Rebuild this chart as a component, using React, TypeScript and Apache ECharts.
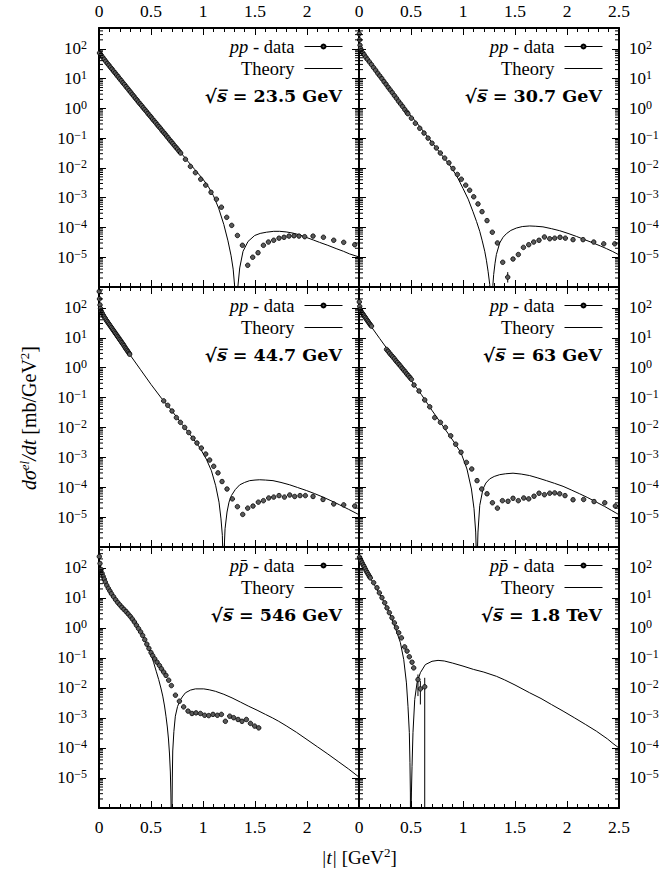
import React, { useEffect, useRef } from 'react';
import * as echarts from 'echarts';

// Panel labels
const panelEnergies = ['23.5 GeV', '30.7 GeV', '44.7 GeV', '63 GeV', '546 GeV', '1.8 TeV'];
const dataNames = ['pp - data', 'pp - data', 'pp - data', 'pp - data', 'pp\u0304 - data', 'pp\u0304 - data'];
const theoryName = 'Theory';
const yTickExponents = [-5, -4, -3, -2, -1, 0, 1, 2];
const minorMantissas = [2, 3, 4, 5, 6, 7, 8, 9];
const minorDecades = [-6, -5, -4, -3, -2, -1, 0, 1, 2];

// Data: [|t| (GeV^2), log10(dσ/dt in mb/GeV^2)]
const data235: number[][] = [
  [0.005, 1.86], [0.02, 1.79], [0.035, 1.72], [0.05, 1.65], [0.065, 1.58], [0.08, 1.51], [0.095, 1.45], [0.11, 1.38],
  [0.125, 1.32], [0.14, 1.25], [0.155, 1.19], [0.17, 1.12], [0.185, 1.06], [0.2, 0.99], [0.215, 0.93], [0.23, 0.86],
  [0.245, 0.8], [0.26, 0.73], [0.275, 0.67], [0.29, 0.6], [0.305, 0.54], [0.32, 0.47], [0.335, 0.41], [0.35, 0.34],
  [0.365, 0.28], [0.38, 0.21], [0.395, 0.15], [0.41, 0.09], [0.425, 0.02], [0.44, -0.04], [0.455, -0.1], [0.47, -0.17],
  [0.485, -0.23], [0.5, -0.29], [0.515, -0.36], [0.53, -0.42], [0.545, -0.48], [0.56, -0.55], [0.575, -0.61], [0.59, -0.67],
  [0.605, -0.74], [0.62, -0.8], [0.635, -0.86], [0.65, -0.93], [0.665, -0.99], [0.68, -1.06], [0.695, -1.12], [0.71, -1.18],
  [0.725, -1.25], [0.74, -1.31], [0.755, -1.37], [0.77, -1.44], [0.785, -1.5],
  [0.831, -1.71], [0.879, -1.95], [0.927, -2.16], [0.978, -2.38], [1.026, -2.58], [1.077, -2.82], [1.129, -3.05],
  [1.177, -3.32], [1.228, -3.66], [1.276, -3.93], [1.331, -4.27], [1.379, -4.6], [1.43, -5.27], [1.478, -5.0],
  [1.529, -4.85], [1.581, -4.6], [1.629, -4.49], [1.68, -4.43], [1.731, -4.36], [1.779, -4.33], [1.827, -4.29],
  [1.875, -4.28], [1.923, -4.29], [1.978, -4.31], [2.058, -4.29], [2.158, -4.33], [2.257, -4.43], [2.353, -4.5], [2.459, -4.58],
];
const theory235: number[][] = [
  [0, 1.88], [0.1, 1.43], [0.2, 0.99], [0.3, 0.56], [0.4, 0.13], [0.5, -0.29], [0.6, -0.72], [0.68, -1.05], [0.76, -1.37],
  [0.84, -1.72], [0.92, -2.05], [1.0, -2.38], [1.05, -2.62], [1.1, -2.93], [1.15, -3.35], [1.2, -3.9], [1.24, -4.45],
  [1.27, -4.95], [1.29, -5.4], [1.305, -6.0], [1.315, -6.8], [1.32, -8], [1.325, -6.8], [1.335, -6.0], [1.353, -5.36],
  [1.385, -4.8], [1.433, -4.47], [1.497, -4.27], [1.55, -4.2], [1.61, -4.16], [1.68, -4.13], [1.737, -4.13], [1.8, -4.15],
  [1.865, -4.19], [1.93, -4.25], [1.99, -4.33], [2.06, -4.42], [2.12, -4.5], [2.2, -4.6], [2.28, -4.71], [2.35, -4.8],
  [2.41, -4.89], [2.5, -4.99],
];

const data307: number[][] = [
  [0.003, 2.5], [0.006, 2.3], [0.01, 2.12], [0.015, 2.01], [0.02, 1.94], [0.035, 1.87], [0.05, 1.8], [0.065, 1.72],
  [0.08, 1.65], [0.1, 1.56], [0.12, 1.47], [0.14, 1.37], [0.16, 1.28], [0.18, 1.18], [0.2, 1.09], [0.22, 1.0],
  [0.24, 0.9], [0.26, 0.81], [0.28, 0.71], [0.3, 0.62], [0.32, 0.53], [0.34, 0.43], [0.36, 0.34], [0.38, 0.24],
  [0.4, 0.15], [0.42, 0.06], [0.44, -0.04], [0.46, -0.13], [0.47, -0.18],
  [0.504, -0.33], [0.542, -0.5], [0.584, -0.67], [0.625, -0.83], [0.664, -1.0], [0.702, -1.17], [0.744, -1.33],
  [0.782, -1.5], [0.824, -1.67], [0.865, -1.83], [0.904, -2.02], [0.946, -2.22], [0.984, -2.38], [1.026, -2.58],
  [1.064, -2.75], [1.103, -2.97], [1.144, -3.21], [1.183, -3.47], [1.231, -3.77], [1.282, -4.16], [1.331, -4.52],
  [1.382, -5.17], [1.43, -5.67], [1.481, -5.06], [1.532, -4.91], [1.581, -4.67], [1.632, -4.58], [1.68, -4.49],
  [1.731, -4.43], [1.783, -4.32], [1.834, -4.38], [1.882, -4.36], [1.933, -4.33], [1.984, -4.36], [2.058, -4.41],
  [2.154, -4.41], [2.257, -4.49], [2.353, -4.55], [2.459, -4.55],
];
const theory307: number[][] = [
  [0, 2.03], [0.1, 1.56], [0.2, 1.09], [0.3, 0.63], [0.391, 0.2], [0.47, -0.13], [0.552, -0.47], [0.63, -0.82],
  [0.712, -1.19], [0.79, -1.54], [0.872, -1.91], [0.94, -2.27], [1.0, -2.69], [1.05, -3.05], [1.096, -3.47], [1.13, -3.8],
  [1.161, -4.13], [1.185, -4.45], [1.209, -4.8], [1.225, -5.1], [1.241, -5.47], [1.257, -5.91], [1.265, -6.5], [1.272, -8],
  [1.279, -6.5], [1.287, -5.95], [1.295, -5.58], [1.308, -5.2], [1.321, -4.91], [1.353, -4.52], [1.385, -4.33],
  [1.417, -4.21], [1.46, -4.1], [1.513, -4.02], [1.57, -3.97], [1.641, -3.95], [1.7, -3.96], [1.769, -3.98], [1.85, -4.04],
  [1.93, -4.11], [2.01, -4.2], [2.09, -4.3], [2.17, -4.41], [2.25, -4.52], [2.32, -4.62], [2.379, -4.71], [2.44, -4.81],
  [2.5, -4.92],
];

const data447: number[][] = [
  [0.002, 2.55], [0.005, 2.3], [0.01, 2.1], [0.015, 1.98], [0.02, 1.9], [0.03, 1.83], [0.04, 1.76], [0.05, 1.7],
  [0.06, 1.65], [0.07, 1.59], [0.08, 1.54], [0.09, 1.49], [0.1, 1.44], [0.11, 1.39], [0.12, 1.34], [0.13, 1.29],
  [0.14, 1.24], [0.15, 1.19], [0.16, 1.14], [0.17, 1.09], [0.18, 1.04], [0.19, 0.99], [0.2, 0.94], [0.21, 0.89],
  [0.22, 0.84], [0.23, 0.79], [0.24, 0.74], [0.25, 0.68], [0.26, 0.63], [0.27, 0.58], [0.28, 0.53], [0.29, 0.48], [0.295, 0.45],
  [0.622, -1.11], [0.661, -1.26], [0.702, -1.45], [0.744, -1.67], [0.783, -1.83], [0.824, -2.0], [0.863, -2.17],
  [0.904, -2.36], [0.942, -2.52], [0.984, -2.69], [1.026, -2.89], [1.064, -3.09], [1.103, -3.3], [1.144, -3.52],
  [1.183, -3.81], [1.231, -4.06], [1.282, -4.39], [1.331, -4.65], [1.382, -4.91], [1.43, -4.7], [1.481, -4.63],
  [1.532, -4.5], [1.581, -4.45], [1.632, -4.36], [1.68, -4.33], [1.731, -4.28], [1.783, -4.33], [1.834, -4.26],
  [1.882, -4.31], [1.933, -4.28], [1.984, -4.28], [2.058, -4.31], [2.154, -4.41], [2.257, -4.56], [2.353, -4.59], [2.459, -4.63],
];
const theory447: number[][] = [
  [0, 1.94], [0.1, 1.43], [0.2, 0.93], [0.3, 0.42], [0.4, -0.07], [0.5, -0.56], [0.6, -1.02], [0.7, -1.44], [0.8, -1.9],
  [0.9, -2.35], [0.968, -2.67], [1.032, -3.06], [1.081, -3.45], [1.122, -3.95], [1.154, -4.5], [1.173, -5.06],
  [1.186, -5.61], [1.19, -6.2], [1.196, -8], [1.202, -6.2], [1.212, -5.39], [1.231, -4.83], [1.25, -4.5], [1.273, -4.28],
  [1.31, -4.08], [1.353, -3.92], [1.4, -3.84], [1.449, -3.78], [1.5, -3.76], [1.545, -3.75], [1.6, -3.76], [1.673, -3.78],
  [1.75, -3.84], [1.834, -3.92], [1.91, -4.01], [1.994, -4.11], [2.07, -4.21], [2.154, -4.33], [2.23, -4.45],
  [2.314, -4.59], [2.4, -4.74], [2.5, -4.92],
];

const data63: number[][] = [
  [0.003, 2.2], [0.007, 2.05], [0.012, 1.95], [0.02, 1.88], [0.03, 1.83], [0.04, 1.78], [0.05, 1.73], [0.06, 1.68],
  [0.07, 1.63], [0.08, 1.58], [0.09, 1.53], [0.1, 1.48], [0.11, 1.43], [0.12, 1.39],
  [0.265, 0.61], [0.28, 0.55], [0.295, 0.48], [0.31, 0.42], [0.325, 0.36], [0.34, 0.3], [0.355, 0.23], [0.37, 0.17],
  [0.385, 0.11], [0.4, 0.05], [0.415, -0.02], [0.43, -0.08], [0.445, -0.14], [0.46, -0.21], [0.475, -0.27], [0.49, -0.33], [0.504, -0.39],
  [0.529, -0.58], [0.577, -0.78], [0.632, -1.08], [0.68, -1.31], [0.728, -1.67], [0.783, -1.83], [0.831, -2.0],
  [0.882, -2.28], [0.93, -2.56], [0.981, -2.83], [1.033, -3.17], [1.084, -3.39], [1.135, -3.78], [1.18, -4.06],
  [1.231, -4.22], [1.283, -4.52], [1.331, -4.7], [1.379, -4.45], [1.433, -4.47], [1.481, -4.37], [1.532, -4.45],
  [1.584, -4.36], [1.632, -4.39], [1.683, -4.3], [1.731, -4.2], [1.783, -4.25], [1.834, -4.2], [1.882, -4.19],
  [1.93, -4.22], [1.981, -4.28], [2.058, -4.42], [2.16, -4.41], [2.26, -4.48], [2.363, -4.52], [2.465, -4.63],
];
const theory63: number[][] = [
  [0, 1.94], [0.1, 1.46], [0.2, 0.97], [0.3, 0.49], [0.4, 0.03], [0.5, -0.42], [0.6, -0.9], [0.7, -1.42], [0.8, -1.92],
  [0.9, -2.42], [0.981, -2.85], [1.038, -3.39], [1.081, -4.06], [1.106, -4.72], [1.122, -5.5], [1.128, -6.2], [1.133, -8],
  [1.138, -6.2], [1.144, -5.5], [1.161, -4.61], [1.192, -4.06], [1.22, -3.86], [1.257, -3.72], [1.3, -3.64], [1.353, -3.58],
  [1.41, -3.55], [1.481, -3.53], [1.56, -3.56], [1.641, -3.61], [1.72, -3.69], [1.802, -3.78], [1.88, -3.87],
  [1.962, -3.97], [2.04, -4.09], [2.122, -4.22], [2.2, -4.35], [2.283, -4.5], [2.36, -4.64], [2.43, -4.78], [2.5, -4.92],
];

const data546: number[][] = [
  [0.003, 2.38], [0.01, 2.15], [0.02, 1.95], [0.03, 1.82], [0.04, 1.72], [0.05, 1.63], [0.06, 1.53], [0.075, 1.42],
  [0.09, 1.32], [0.105, 1.23], [0.12, 1.14], [0.14, 1.04], [0.16, 0.94], [0.18, 0.85], [0.2, 0.77], [0.22, 0.69],
  [0.24, 0.62], [0.26, 0.55], [0.28, 0.47], [0.3, 0.39], [0.32, 0.3], [0.34, 0.2], [0.36, 0.09], [0.38, -0.02],
  [0.4, -0.13], [0.42, -0.25], [0.44, -0.39], [0.46, -0.54], [0.48, -0.68], [0.5, -0.82],
  [0.516, -0.92], [0.536, -1.03], [0.558, -1.14], [0.581, -1.25], [0.6, -1.36], [0.622, -1.47], [0.644, -1.58],
  [0.67, -1.74], [0.696, -1.92], [0.735, -2.24], [0.773, -2.44], [0.814, -2.63], [0.856, -2.77], [0.894, -2.85],
  [0.933, -2.83], [0.975, -2.85], [1.016, -2.91], [1.055, -2.92], [1.096, -2.88], [1.138, -2.91], [1.177, -2.88],
  [1.215, -3.11], [1.257, -2.94], [1.295, -2.99], [1.337, -3.05], [1.375, -3.11], [1.417, -3.05], [1.456, -3.18],
  [1.497, -3.27], [1.536, -3.33],
];
const theory546: number[][] = [
  [0, 2.35], [0.02, 1.95], [0.05, 1.62], [0.1, 1.27], [0.15, 0.99], [0.2, 0.77], [0.25, 0.58], [0.3, 0.39], [0.35, 0.15],
  [0.4, -0.13], [0.45, -0.47], [0.5, -0.88], [0.526, -1.16], [0.55, -1.44], [0.574, -1.72], [0.595, -2.0], [0.613, -2.27],
  [0.63, -2.6], [0.644, -2.94], [0.657, -3.3], [0.668, -3.7], [0.678, -4.2], [0.686, -4.8], [0.691, -5.5], [0.694, -6.2],
  [0.698, -8], [0.702, -6.2], [0.705, -5.0], [0.709, -4.1], [0.72, -3.45], [0.734, -2.94], [0.755, -2.62], [0.776, -2.44],
  [0.8, -2.3], [0.831, -2.16], [0.88, -2.07], [0.927, -2.03], [1.007, -2.03], [1.06, -2.06], [1.119, -2.11], [1.2, -2.21],
  [1.279, -2.33], [1.36, -2.47], [1.44, -2.61], [1.52, -2.74], [1.6, -2.88], [1.67, -3.0], [1.728, -3.11], [1.8, -3.26],
  [1.9, -3.48], [2.0, -3.72], [2.1, -3.96], [2.2, -4.2], [2.3, -4.45], [2.4, -4.7], [2.5, -4.97],
];

const data1800: number[][] = [
  [0.005, 2.36], [0.012, 2.3], [0.02, 2.24], [0.03, 2.17], [0.04, 2.1], [0.05, 2.04], [0.06, 1.97], [0.07, 1.9],
  [0.08, 1.84], [0.09, 1.78], [0.1, 1.72],
  [0.109, 1.67], [0.141, 1.51], [0.173, 1.34], [0.196, 1.17], [0.221, 1.01], [0.247, 0.84], [0.269, 0.67], [0.292, 0.51],
  [0.317, 0.34], [0.34, 0.17], [0.36, 0.01], [0.382, -0.16], [0.408, -0.33], [0.439, -0.63], [0.462, -0.77],
  [0.484, -0.96], [0.51, -1.14], [0.526, -1.33], [0.567, -1.72], [0.59, -2.03], [0.632, -1.96],
];
const theory1800: number[][] = [
  [0, 2.4], [0.05, 2.03], [0.1, 1.72], [0.15, 1.42], [0.2, 1.12], [0.25, 0.8], [0.3, 0.44], [0.35, 0.0], [0.398, -0.49],
  [0.43, -1.05], [0.456, -1.83], [0.471, -2.61], [0.484, -3.49], [0.49, -4.49], [0.494, -5.5], [0.497, -8], [0.501, -6.2],
  [0.504, -5.5], [0.51, -4.61], [0.519, -3.49], [0.536, -2.38], [0.558, -1.83], [0.59, -1.49], [0.638, -1.22],
  [0.702, -1.11], [0.76, -1.08], [0.82, -1.1], [0.9, -1.17], [1.0, -1.27], [1.1, -1.38], [1.2, -1.47], [1.321, -1.61],
  [1.4, -1.73], [1.5, -1.9], [1.641, -2.16], [1.75, -2.35], [1.85, -2.55], [1.962, -2.77], [2.07, -2.99], [2.18, -3.22],
  [2.283, -3.44], [2.39, -3.7], [2.442, -3.85], [2.5, -4.0],
];

// Error bars: [|t|, log10 low, log10 high]
const errors307: number[][] = [[1.43, -5.85, -5.5]];
const errors1800: number[][] = [[0.567, -2.27, -1.55], [0.59, -2.55, -1.77], [0.632, -6.0, -1.66]];
const noErrors: number[][] = [];

const panelData = [data235, data307, data447, data63, data546, data1800];
const panelTheory = [theory235, theory307, theory447, theory63, theory546, theory1800];
const panelErrors = [noErrors, errors307, noErrors, noErrors, noErrors, errors1800];

// Layout (pixels)
const COL_LEFT = [99, 359];
const COL_W = 260;
const ROW_TOP = [28, 287, 547];
const ROW_H = [259, 260, 261];
const W = 669;
const H = 879;

const SERIF = "'Liberation Serif', 'DejaVu Serif', serif";
const WIDE_SERIF = "'DejaVu Serif', 'Liberation Serif', serif";

function supText(e: number) {
  return e < 0 ? '\u2212' + String(-e) : String(e);
}

function buildOption() {
  const grid: any[] = [];
  const xAxis: any[] = [];
  const yAxis: any[] = [];
  const series: any[] = [];
  const legend: any[] = [];
  const title: any[] = [];

  const minorVals: number[][] = [];
  minorDecades.forEach((d) => {
    minorMantissas.forEach((m) => {
      const v = m * Math.pow(10, d);
      if (v < 500) minorVals.push([0, v]);
    });
  });

  const axisLineStyle = { color: '#000', width: 2 };
  const tickLineStyle = { color: '#000', width: 1 };

  for (let i = 0; i < 6; i++) {
    const r = Math.floor(i / 2);
    const c = i % 2;
    grid.push({ left: COL_LEFT[c], top: ROW_TOP[r], width: COL_W, height: ROW_H[r], containLabel: false, show: false });

    ['bottom', 'top'].forEach((pos) => {
      const showLabel = (pos === 'top' && r === 0) || (pos === 'bottom' && r === 2);
      xAxis.push({
        type: 'value', gridIndex: i, position: pos, min: 0, max: 2.5, interval: 0.5,
        axisLine: { show: true, onZero: false, lineStyle: axisLineStyle },
        axisTick: { show: true, inside: true, length: 7, lineStyle: tickLineStyle },
        minorTick: { show: true, splitNumber: 5, length: 4, lineStyle: tickLineStyle },
        splitLine: { show: false },
        axisLabel: {
          show: showLabel, margin: pos === 'top' ? 8 : 10, showMaxLabel: c === 1,
          fontFamily: SERIF, fontSize: 17.5, color: '#000',
          formatter: (v: number) => String(v),
        },
      });
    });

    ['left', 'right'].forEach((pos) => {
      const showLabel = (pos === 'left' && c === 0) || (pos === 'right' && c === 1);
      yAxis.push({
        type: 'log', logBase: 10, gridIndex: i, position: pos, min: 1e-6, max: 500,
        axisLine: { show: true, onZero: false, lineStyle: axisLineStyle },
        axisTick: { show: true, inside: true, length: 7, lineStyle: tickLineStyle },
        minorTick: { show: false },
        splitLine: { show: false },
        axisLabel: {
          show: showLabel, margin: pos === 'left' ? 12 : 10, showMinLabel: false, showMaxLabel: false,
          formatter: (v: number) => {
            const lg = Math.log10(v);
            const e = Math.round(lg);
            if (Math.abs(lg - e) > 1e-6 || yTickExponents.indexOf(e) < 0) return '';
            return '{b|10}{s|' + supText(e) + '}';
          },
          rich: {
            b: { fontFamily: SERIF, fontSize: 17, lineHeight: 19, color: '#000' },
            s: { fontFamily: SERIF, fontSize: 12, lineHeight: 12, verticalAlign: 'top', color: '#000' },
          },
        },
      });
    });

    const xi = 2 * i;
    const yi = 2 * i;

    series.push({
      name: theoryName, type: 'line', xAxisIndex: xi, yAxisIndex: yi,
      data: panelTheory[i].map((p) => [p[0], Math.pow(10, p[1])]),
      symbol: 'none', showSymbol: false, clip: true, silent: true, z: 2,
      lineStyle: { color: '#000', width: 1 },
      itemStyle: { color: '#000' },
    });

    series.push({
      name: dataNames[i], type: 'line', xAxisIndex: xi, yAxisIndex: yi,
      data: panelData[i].map((p) => [p[0], Math.pow(10, p[1])]),
      symbol: 'circle', symbolSize: 4.5, showSymbol: true, showAllSymbol: true, clip: true, silent: true, z: 4,
      lineStyle: { width: 0, opacity: 0, color: '#000' },
      itemStyle: { color: '#5a5a5a', borderColor: '#000', borderWidth: 0.8 },
    });

    if (panelErrors[i].length) {
      series.push({
        type: 'custom', xAxisIndex: xi, yAxisIndex: yi, silent: true, z: 3,
        data: panelErrors[i].map((p) => [p[0], Math.pow(10, p[1]), Math.pow(10, p[2])]),
        encode: { x: 0, y: [1, 2] },
        renderItem: (params: any, api: any) => {
          const x = api.value(0);
          const lo = api.coord([x, api.value(1)]);
          const hi = api.coord([x, api.value(2)]);
          return { type: 'line', shape: { x1: lo[0], y1: lo[1], x2: hi[0], y2: hi[1] }, style: { stroke: '#000', lineWidth: 1 } };
        },
      });
    }

    series.push({
      type: 'custom', xAxisIndex: xi, yAxisIndex: yi, silent: true, z: 5,
      data: minorVals,
      encode: { x: 0, y: 1 },
      renderItem: (params: any, api: any) => {
        const v = api.value(1);
        const l = api.coord([0, v]);
        const rr = api.coord([2.5, v]);
        return {
          type: 'group',
          children: [
            { type: 'line', shape: { x1: l[0], y1: l[1], x2: l[0] + 4, y2: l[1] }, style: { stroke: '#000', lineWidth: 1 } },
            { type: 'line', shape: { x1: rr[0] - 4, y1: rr[1], x2: rr[0], y2: rr[1] }, style: { stroke: '#000', lineWidth: 1 } },
          ],
        };
      },
    });

    const rightPx = W - (COL_LEFT[c] + COL_W - 16);
    legend.push({
      orient: 'vertical', align: 'right', right: rightPx, top: ROW_TOP[r] + 9, padding: 0,
      itemWidth: 38, itemHeight: 5, itemGap: 3, selectedMode: false,
      data: [{ name: dataNames[i] }, { name: theoryName, itemStyle: { opacity: 0 } }],
      lineStyle: { color: '#000', width: 1, opacity: 1, type: 'solid' },
      formatter: (name: string) => {
        if (name === theoryName) return theoryName;
        const idx = name.indexOf(' - ');
        return '{i|' + name.slice(0, idx) + '}' + name.slice(idx);
      },
      textStyle: {
        fontFamily: SERIF, fontSize: 18.5, lineHeight: 17, color: '#000', padding: [0, 5, 0, 0],
        rich: { i: { fontFamily: SERIF, fontStyle: 'italic', fontSize: 18.5, lineHeight: 17, color: '#000' } },
      },
    });

    title.push({
      text: '{sq|\u221A}{s|s\u0305}{t| = ' + panelEnergies[i] + '}',
      right: rightPx + 1, top: ROW_TOP[r] + 57, padding: 0,
      textStyle: {
        rich: {
          sq: { fontFamily: WIDE_SERIF, fontSize: 18.5, lineHeight: 22, color: '#000' },
          s: { fontFamily: WIDE_SERIF, fontStyle: 'italic', fontSize: 17.5, lineHeight: 22, color: '#000' },
          t: { fontFamily: WIDE_SERIF, fontWeight: 'bold', fontSize: 17.5, lineHeight: 22, color: '#000' },
        },
      },
    });
  }

  const graphic = [
    {
      type: 'text', x: 29, y: 418, rotation: Math.PI / 2, silent: true,
      style: {
        text: '{i|d\u03C3}{sup|el}{i|/dt} [mb/GeV{sup2|2}]',
        align: 'center', verticalAlign: 'middle', fill: '#000',
        fontFamily: SERIF, fontSize: 20,
        rich: {
          i: { fontFamily: SERIF, fontStyle: 'italic', fontSize: 20, lineHeight: 22 },
          sup: { fontFamily: SERIF, fontStyle: 'italic', fontSize: 13, lineHeight: 13, verticalAlign: 'top' },
          sup2: { fontFamily: SERIF, fontSize: 13, lineHeight: 13, verticalAlign: 'top' },
        },
      },
    },
    {
      type: 'text', x: 359, y: 857, silent: true,
      style: {
        text: '{i||t|} [GeV{sup|2}]',
        align: 'center', verticalAlign: 'middle', fill: '#000',
        fontFamily: SERIF, fontSize: 19,
        rich: {
          i: { fontFamily: SERIF, fontStyle: 'italic', fontSize: 19, lineHeight: 22 },
          sup: { fontFamily: SERIF, fontSize: 13, lineHeight: 13, verticalAlign: 'top' },
        },
      },
    },
  ];

  return {
    animation: false,
    backgroundColor: '#fff',
    textStyle: { fontFamily: SERIF, color: '#000' },
    grid, xAxis, yAxis, series, legend, title, graphic,
  };
}

export default function App() {
  const ref = useRef<HTMLDivElement>(null);
  useEffect(() => {
    document.body.style.margin = '0';
    if (!ref.current) return;
    const chart = echarts.init(ref.current, undefined, { renderer: 'svg' });
    chart.setOption(buildOption() as any);
    return () => chart.dispose();
  }, []);
  return <div ref={ref} style={{ width: W, height: H }} />;
}
